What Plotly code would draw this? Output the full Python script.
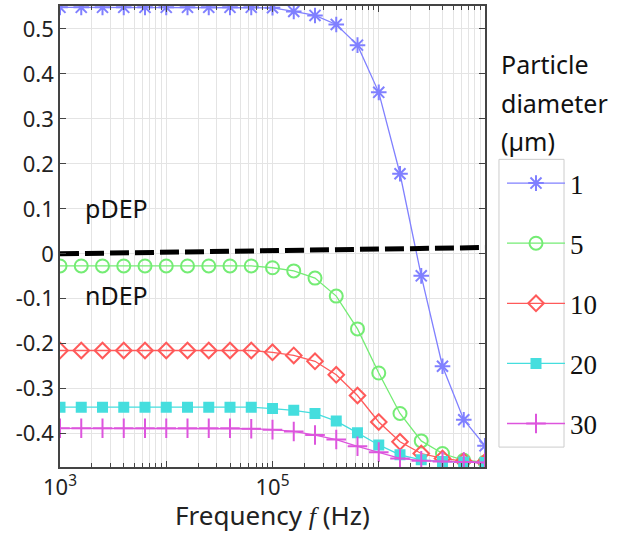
import plotly.graph_objects as go

# ---------------- data ----------------
freq_hz = [1.0e3, 1.585e3, 2.512e3, 3.981e3, 6.310e3,
           1.0e4, 1.585e4, 2.512e4, 3.981e4, 6.310e4,
           1.0e5, 1.585e5, 2.512e5, 3.981e5, 6.310e5,
           1.0e6, 1.585e6, 2.512e6, 3.981e6, 6.310e6, 1.0e7]

cm_d1 = [0.548, 0.548, 0.548, 0.548, 0.548, 0.548, 0.548, 0.548, 0.548, 0.548, 0.547,
         0.539, 0.530, 0.510, 0.464, 0.359, 0.178, -0.049, -0.250, -0.369, -0.427]
cm_d5 = [-0.027, -0.027, -0.027, -0.027, -0.027, -0.027, -0.027, -0.027, -0.027, -0.027,
         -0.031, -0.038, -0.054, -0.094, -0.167, -0.265, -0.355, -0.416, -0.444, -0.459, -0.463]
cm_d10 = [-0.215, -0.215, -0.215, -0.215, -0.215, -0.215, -0.215, -0.215, -0.215, -0.215,
          -0.219, -0.226, -0.239, -0.269, -0.315, -0.374, -0.418, -0.444, -0.455, -0.461, -0.463]
cm_d20 = [-0.341, -0.341, -0.341, -0.341, -0.341, -0.341, -0.341, -0.341, -0.341, -0.341,
          -0.344, -0.348, -0.355, -0.372, -0.398, -0.425, -0.447, -0.458, -0.462, -0.463, -0.464]
cm_d30 = [-0.388, -0.388, -0.388, -0.388, -0.388, -0.388, -0.388, -0.388, -0.388,
          -0.389, -0.391, -0.395, -0.403, -0.413, -0.428, -0.441, -0.455, -0.460, -0.462, -0.463, -0.464]

zero_x = [1.0e3, 1.0e7]
zero_y = [0.0, 0.014]

series_names = ["1", "5", "10", "20", "30"]

y_tick_vals = [-0.4, -0.3, -0.2, -0.1, 0, 0.1, 0.2, 0.3, 0.4, 0.5]
y_tick_text = ["-0.4", "-0.3", "-0.2", "-0.1", "0", "0.1", "0.2", "0.3", "0.4", "0.5"]
x_tick_vals = [1e3, 1e4, 1e5, 1e6, 1e7]
x_tick_text = ["10<sup>3</sup>", "", "10<sup>5</sup>", "", ""]

# ---------------- styles ----------------
colors = ["#8080ff", "#74ec74", "#ff5a5a", "#45dede", "#dd55dd"]
symbols = ["asterisk-open", "circle-open", "diamond-open", "square", "cross-thin-open"]
msizes = [13, 13, 12, 9, 14]

fig = go.Figure()
for i, (name, ys) in enumerate(zip(series_names, [cm_d1, cm_d5, cm_d10, cm_d20, cm_d30])):
    fig.add_trace(go.Scatter(
        x=freq_hz, y=ys, mode="lines+markers", name=name,
        legendgroup=name,
        line=dict(color=colors[i], width=1.3),
        marker=dict(symbol=symbols[i], size=msizes[i], color=colors[i],
                    line=dict(color=colors[i], width=2)),
    ))

fig.add_trace(go.Scatter(
    x=zero_x, y=zero_y, mode="lines", showlegend=False,
    line=dict(color="black", width=5, dash="19px,6px"),
))

tick_font = dict(family="Noto Sans", size=22, color="#222")
axis_common = dict(
    showline=True, linecolor="#444", linewidth=1.5, mirror="allticks",
    ticks="inside", ticklen=6, tickcolor="#444", tickwidth=1.2,
    showgrid=True, gridcolor="#e4e4e4", gridwidth=1,
    zeroline=False, tickfont=tick_font,
)

fig.update_xaxes(
    type="log", range=[3, 7], tickvals=x_tick_vals, ticktext=x_tick_text,
    minor=dict(ticks="inside", ticklen=4, tickcolor="#444", showgrid=True,
               gridcolor="#e4e4e4", dtick="D1"),
    title=dict(text="Frequency <span style=\"font-family:'Liberation Serif';font-style:italic\">f</span> (Hz)",
               font=dict(family="Noto Sans", size=26, color="#222"),
               standoff=3),
    **axis_common,
)
fig.update_yaxes(
    range=[-0.474, 0.551], tickvals=y_tick_vals, ticktext=y_tick_text,
    **axis_common,
)

ann_font = dict(family="Noto Sans", size=25, color="#111")
fig.add_annotation(x=0.134, y=0.562, xref="paper", yref="paper", text="pDEP",
                   showarrow=False, font=ann_font, xanchor="center", yanchor="middle")
fig.add_annotation(x=0.134, y=0.374, xref="paper", yref="paper", text="nDEP",
                   showarrow=False, font=ann_font, xanchor="center", yanchor="middle")
title_y = [0.875, 0.790, 0.707]
for j, line in enumerate(["Particle", "diameter", "(µm)"]):
    fig.add_annotation(x=1.033, y=title_y[j], xref="paper", yref="paper", text=line,
                       showarrow=False, font=dict(family="Noto Sans", size=25, color="#111"),
                       xanchor="left", yanchor="middle")
fig.add_shape(type="rect", xref="paper", yref="paper", x0=1.0329, x1=1.1859, y0=0.0432, y1=0.6674,
              line=dict(color="#cccccc", width=1), fillcolor="rgba(0,0,0,0)")

fig.update_layout(
    width=643, height=533,
    margin=dict(l=60, r=158, t=4, b=66),
    paper_bgcolor="white", plot_bgcolor="white",
    legend=dict(x=1.04, y=0.668, xanchor="left", yanchor="top",
                font=dict(family="Liberation Serif", size=27, color="#111"),
                bgcolor="rgba(0,0,0,0)", borderwidth=0,
                itemwidth=58, tracegroupgap=22),
)

fig.write_html("out.html")
